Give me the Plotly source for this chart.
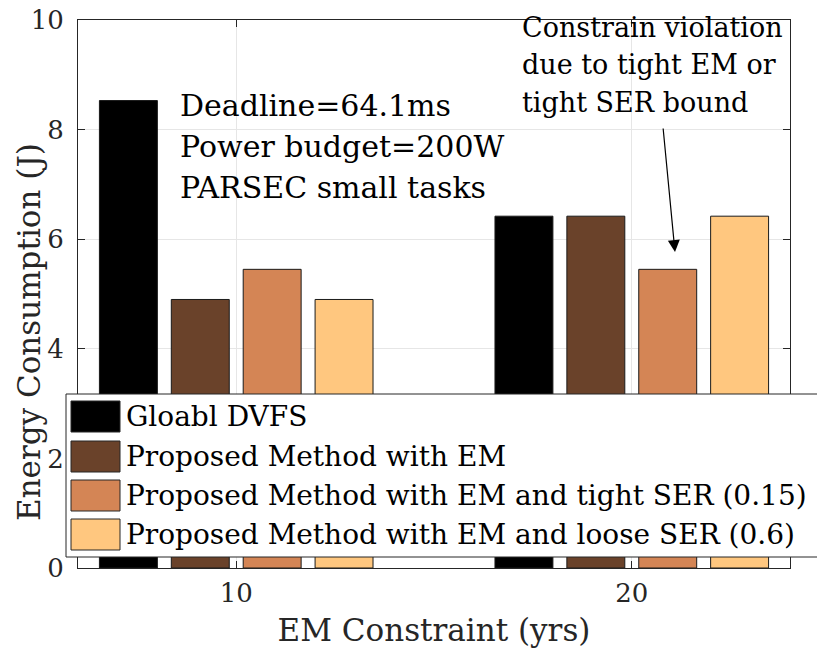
import plotly.graph_objects as go

# ---- data ----
em_constraint = [10, 20]
series_names = [
    "Gloabl DVFS",
    "Proposed Method with EM",
    "Proposed Method with EM and tight SER (0.15)",
    "Proposed Method with EM and loose SER (0.6)",
]
global_dvfs = [8.53, 6.42]
em_only = [4.90, 6.42]
em_tight_ser = [5.45, 5.45]
em_loose_ser = [4.90, 6.42]
y_ticks = [0, 2, 4, 6, 8, 10]

colors = ["#000000", "#6A422A", "#D48555", "#FFC77F"]
values = [global_dvfs, em_only, em_tight_ser, em_loose_ser]

W, H = 817, 660
L, R, T, B = 78, 790, 20, 568
FONT = "DejaVu Serif"
AX = "#262626"


def px(x):
    return (x - L) / (R - L)


def py(y):
    return (B - y) / (B - T)


fig = go.Figure()
for name, vals, col in zip(series_names, values, colors):
    fig.add_trace(go.Bar(
        x=em_constraint, y=vals, name=name,
        marker=dict(color=col, line=dict(color="#1a1a1a", width=1)),
        showlegend=False,
    ))

shapes = []
annotations = []

# manual legend (large swatches like the original)
shapes.append(dict(type="rect", xref="paper", yref="paper",
                   x0=px(66), x1=px(840), y0=py(557), y1=py(394),
                   fillcolor="white", line=dict(color=AX, width=1), layer="above"))
row_tops = [401, 441, 480, 519]
for name, col, top in zip(series_names, colors, row_tops):
    shapes.append(dict(type="rect", xref="paper", yref="paper",
                       x0=px(71), x1=px(120), y0=py(top + 31), y1=py(top),
                       fillcolor=col, line=dict(color=AX, width=1), layer="above"))
    annotations.append(dict(text=name, xref="paper", yref="paper",
                            x=px(124), y=py(top + 15.5), xanchor="left", yanchor="middle",
                            showarrow=False, font=dict(family=FONT, size=28, color="black")))

# text block on the left
left_lines = ["Deadline=64.1ms", "Power budget=200W", "PARSEC small tasks"]
for i, t in enumerate(left_lines):
    annotations.append(dict(text=t, xref="paper", yref="paper",
                            x=px(178), y=py(105 + 41.5 * i), xanchor="left", yanchor="middle",
                            showarrow=False, font=dict(family=FONT, size=30, color="black")))

# text block on the right
right_lines = ["Constrain violation", "due to tight EM or", "tight SER bound"]
for i, t in enumerate(right_lines):
    annotations.append(dict(text=t, xref="paper", yref="paper",
                            x=px(520), y=py(27 + 37.7 * i), xanchor="left", yanchor="middle",
                            showarrow=False, font=dict(family=FONT, size=27, color="black")))

# arrow
annotations.append(dict(text="", xref="paper", yref="paper",
                        x=px(675), y=py(252), ax=663 - 675, ay=127 - 252,
                        showarrow=True, arrowhead=2, arrowsize=2, arrowwidth=1.2,
                        arrowcolor="black", standoff=0))

# y axis title (positioned like the original)
annotations.append(dict(text="Energy Consumption (J)", xref="paper", yref="paper",
                        x=px(29), y=py(332), textangle=-90, xanchor="center", yanchor="middle",
                        showarrow=False, font=dict(family=FONT, size=31, color=AX)))

fig.update_layout(
    width=W, height=H,
    margin=dict(l=L, r=W - R, t=T, b=H - B, pad=0, autoexpand=False),
    plot_bgcolor="white", paper_bgcolor="white",
    barmode="group", bargap=0.273, bargroupgap=0.194,
    font=dict(family=FONT, color=AX),
    shapes=shapes, annotations=annotations,
    showlegend=False,
)
fig.update_xaxes(
    range=[6, 24], tickvals=em_constraint, ticktext=[str(v) for v in em_constraint],
    showgrid=True, gridcolor="#E6E6E6", gridwidth=1,
    showline=True, linecolor=AX, linewidth=1, mirror="ticks",
    ticks="inside", ticklen=7, tickcolor=AX, automargin=False,
    tickfont=dict(family=FONT, size=26, color=AX), ticklabelstandoff=2,
    title=dict(text="EM Constraint (yrs)", font=dict(family=FONT, size=31, color=AX), standoff=12),
    zeroline=False,
)
fig.update_yaxes(
    range=[0, 10], tickvals=y_ticks, ticktext=[str(v) for v in y_ticks],
    showgrid=True, gridcolor="#E6E6E6", gridwidth=1,
    showline=True, linecolor=AX, linewidth=1, mirror="ticks",
    ticks="inside", ticklen=7, tickcolor=AX, automargin=False,
    tickfont=dict(family=FONT, size=26, color=AX), ticklabelstandoff=8,
    zeroline=False,
)

fig.write_html("out.html")
